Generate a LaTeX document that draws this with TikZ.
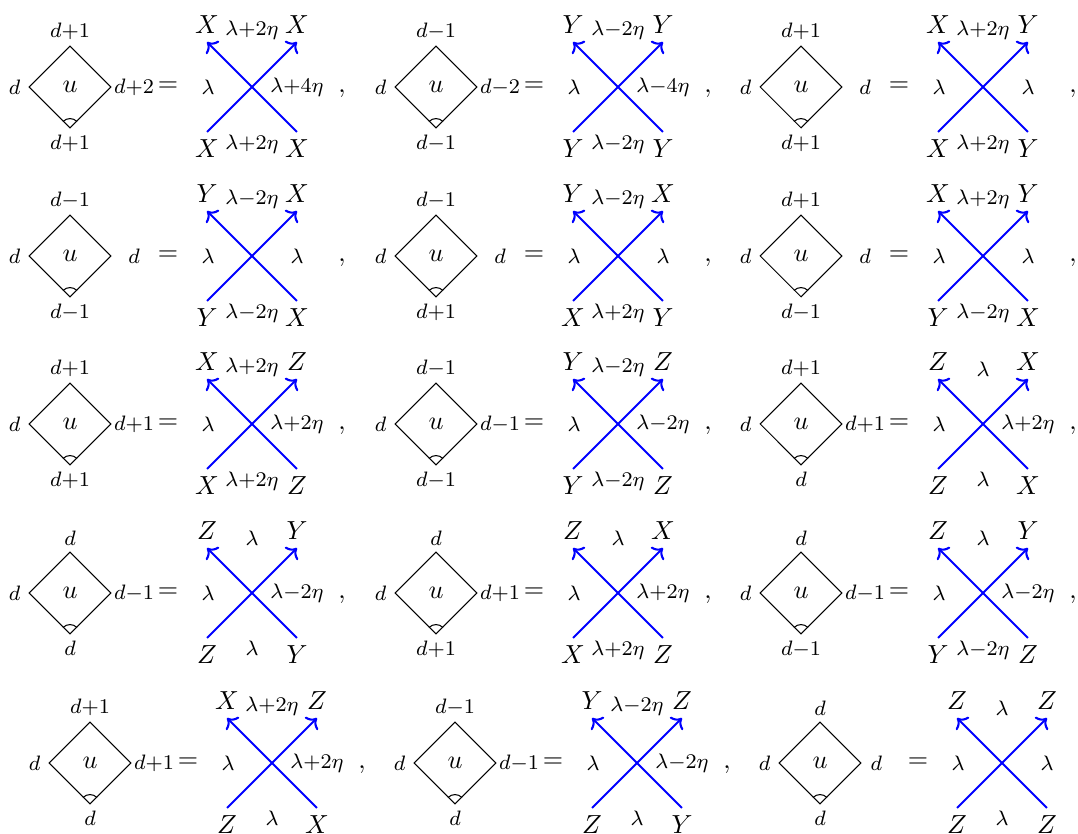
\documentclass[tikz,border=0pt]{standalone}
\usepackage{amsmath,amssymb}
\usetikzlibrary{arrows.meta,positioning,shapes.geometric}

\begin{document}
\begin{tikzpicture}[x=0.383pt, y=0.383pt,
    lab/.style={font=\footnotesize, inner sep=0pt},
    big/.style={inner sep=0pt},
    plaq/.style={diamond, draw, aspect=1, inner sep=0pt, minimum width=31.4pt, minimum height=31.4pt},
    wire/.style={blue, thick, ->}]
  \useasboundingbox (0,-834) rectangle (1078,0);
  % one relation per entry: plaquette = crossing ,
  \foreach \x/\y/\dt/\dr/\rp/\db/\tl/\tm/\tr/\mr/\bl/\bm/\br/\cm [count=\i] in {
      70/-87/d{+}1/d{+}2/0.8pt/d{+}1/X/\lambda{+}2\eta/X/\lambda{+}4\eta/X/\lambda{+}2\eta/X/1,
      436/-87/d{-}1/d{-}2/0.8pt/d{-}1/Y/\lambda{-}2\eta/Y/\lambda{-}4\eta/Y/\lambda{-}2\eta/Y/1,
      801/-87/d{+}1/d/6.3pt/d{+}1/X/\lambda{+}2\eta/Y/\lambda/X/\lambda{+}2\eta/Y/1,
      70/-256/d{-}1/d/6.3pt/d{-}1/Y/\lambda{-}2\eta/X/\lambda/Y/\lambda{-}2\eta/X/1,
      436/-256/d{-}1/d/6.3pt/d{+}1/Y/\lambda{-}2\eta/X/\lambda/X/\lambda{+}2\eta/Y/1,
      801/-256/d{+}1/d/6.3pt/d{-}1/X/\lambda{+}2\eta/Y/\lambda/Y/\lambda{-}2\eta/X/1,
      70/-424/d{+}1/d{+}1/0.8pt/d{+}1/X/\lambda{+}2\eta/Z/\lambda{+}2\eta/X/\lambda{+}2\eta/Z/1,
      436/-424/d{-}1/d{-}1/0.8pt/d{-}1/Y/\lambda{-}2\eta/Z/\lambda{-}2\eta/Y/\lambda{-}2\eta/Z/1,
      801/-424/d{+}1/d{+}1/0.8pt/d/Z/\lambda/X/\lambda{+}2\eta/Z/\lambda/X/1,
      70/-593/d/d{-}1/0.8pt/d/Z/\lambda/Y/\lambda{-}2\eta/Z/\lambda/Y/1,
      436/-593/d/d{+}1/0.8pt/d{+}1/Z/\lambda/X/\lambda{+}2\eta/X/\lambda{+}2\eta/Z/1,
      801/-593/d/d{-}1/0.8pt/d{-}1/Z/\lambda/Y/\lambda{-}2\eta/Y/\lambda{-}2\eta/Z/1,
      90/-763/d{+}1/d{+}1/0.8pt/d/X/\lambda{+}2\eta/Z/\lambda{+}2\eta/Z/\lambda/X/1,
      455/-763/d{-}1/d{-}1/0.8pt/d/Y/\lambda{-}2\eta/Z/\lambda{-}2\eta/Z/\lambda/Y/1,
      820/-763/d/d/3.3pt/d/Z/\lambda/Z/\lambda/Z/\lambda/Z/0} {
    % plaquette
    \node[plaq] (dia\i) at (\x,\y) {$u$};
    \draw ([shift={(45:3.8pt)}]dia\i.south) arc[start angle=45, end angle=135, radius=3.8pt];
    \node[lab, above=1.9pt of dia\i] (dt\i) {$\dt$};
    \node[lab, below=2.3pt of dia\i] (db\i) {$\db$};
    \node[lab, left=2.9pt of dia\i] (dl\i) {$d$};
    \node[lab, right=\rp of dia\i] (dr\i) {$\dr$};
    \node[big] (eq\i) at (\x+98,\y) {$=$};
    % crossing
    \coordinate (sw\i) at (\x+137,\y-45);
    \coordinate (se\i) at (\x+227,\y-45);
    \coordinate (nw\i) at (\x+137,\y+45);
    \coordinate (ne\i) at (\x+227,\y+45);
    \draw[wire] (sw\i) -- (ne\i);
    \draw[wire] (se\i) -- (nw\i);
    \node[big, above=3.1pt of nw\i] (tl\i) {$\tl$};
    \node[big, above=3.1pt of ne\i] (tr\i) {$\tr$};
    \node[big, below=2.7pt of sw\i] (bl\i) {$\bl$};
    \node[big, below=2.7pt of se\i] (br\i) {$\br$};
    \node[lab, anchor=south] (tm\i) at (\x+182,\y+47) {$\tm$};
    \node[lab, anchor=north] (bm\i) at (\x+182,\y-47) {$\bm$};
    \node[lab] (ml\i) at (\x+138,\y) {$\lambda$};
    \node[lab] (mr\i) at (\x+227,\y) {$\mr$};
    \ifnum\cm=1
      \node[big, anchor=base] (cm\i) at (\x+272,\y-6) {$,$};
    \fi
  }
\end{tikzpicture}
\end{document}
